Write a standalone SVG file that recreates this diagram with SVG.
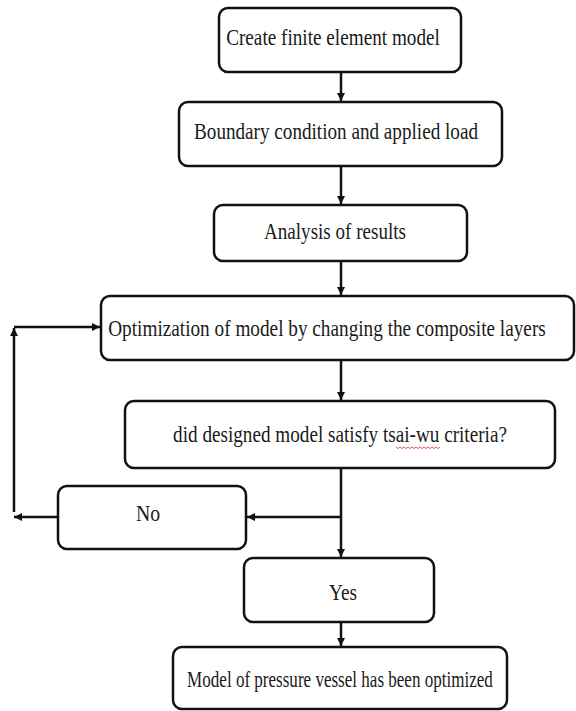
<svg xmlns="http://www.w3.org/2000/svg" width="576" height="711" viewBox="0 0 576 711">
<style>
.box{fill:#fff;stroke:#111;stroke-width:2.5}
.lbl{font-family:"Liberation Serif","Times New Roman",serif;font-size:23px;fill:#1a1a1a;text-anchor:middle}
.ln{stroke:#111;stroke-width:2.5;fill:none}
</style>
<defs>
<marker id="ah" viewBox="0 0 10 10" refX="10" refY="5" markerWidth="3.2" markerHeight="3.2" orient="auto" markerUnits="strokeWidth">
<path d="M0,0 L10,5 L0,10 z" fill="#111"/>
</marker>
</defs>
<rect width="576" height="711" fill="#fff"/>
<g id="connectors">
<line class="ln" x1="341" y1="72" x2="341" y2="101" marker-end="url(#ah)"/>
<line class="ln" x1="341" y1="166" x2="341" y2="204" marker-end="url(#ah)"/>
<line class="ln" x1="341" y1="261" x2="341" y2="295" marker-end="url(#ah)"/>
<line class="ln" x1="341" y1="360" x2="341" y2="400" marker-end="url(#ah)"/>
<line class="ln" x1="341" y1="468" x2="341" y2="557" marker-end="url(#ah)"/>
<line class="ln" x1="341" y1="517" x2="247" y2="517" marker-end="url(#ah)"/>
<line class="ln" x1="58" y1="517" x2="14" y2="517" marker-end="url(#ah)"/>
<line class="ln" x1="14" y1="512" x2="14" y2="328" marker-end="url(#ah)"/>
<line class="ln" x1="14" y1="327" x2="100" y2="327" marker-end="url(#ah)"/>
<line class="ln" x1="341" y1="622" x2="341" y2="646" marker-end="url(#ah)"/>
</g>
<g id="n1">
<rect class="box" x="219" y="8" width="242" height="64" rx="9"/>
<text class="lbl" transform="translate(333,45) scale(0.78,1)" textLength="274" lengthAdjust="spacingAndGlyphs">Create finite element model</text>
</g>
<g id="n2">
<rect class="box" x="179" y="102" width="323" height="64" rx="9"/>
<text class="lbl" transform="translate(336,139) scale(0.78,1)" textLength="364" lengthAdjust="spacingAndGlyphs">Boundary condition and applied load</text>
</g>
<g id="n3">
<rect class="box" x="214" y="205" width="253" height="56" rx="9"/>
<text class="lbl" transform="translate(335,239) scale(0.78,1)" textLength="182" lengthAdjust="spacingAndGlyphs">Analysis of results</text>
</g>
<g id="n4">
<rect class="box" x="101" y="296" width="473" height="64" rx="9"/>
<text class="lbl" transform="translate(327,336) scale(0.78,1)" textLength="561" lengthAdjust="spacingAndGlyphs">Optimization of model by changing the composite layers</text>
</g>
<g id="n5">
<rect class="box" x="125" y="401" width="430" height="67" rx="9"/>
<text class="lbl" transform="translate(340,442) scale(0.78,1)" textLength="428" lengthAdjust="spacingAndGlyphs">did designed model satisfy tsai-wu criteria?</text>
<path d="M396,447 l2,1.5 l2,-1.5 l2,1.5 l2,-1.5 l2,1.5 l2,-1.5 l2,1.5 l2,-1.5 l2,1.5 l2,-1.5 l2,1.5 l2,-1.5 l2,1.5 l2,-1.5 l2,1.5 l2,-1.5 l2,1.5 l2,-1.5 l2,1.5 l2,-1.5 l2,1.5 l2,-1.5" fill="none" stroke="#d33" stroke-width="0.8"/>
</g>
<g id="n6">
<rect class="box" x="58" y="486" width="188" height="63" rx="9"/>
<text class="lbl" transform="translate(148,521) scale(0.78,1)" textLength="31" lengthAdjust="spacingAndGlyphs">No</text>
</g>
<g id="n7">
<rect class="box" x="244" y="558" width="190" height="64" rx="9"/>
<text class="lbl" transform="translate(343,600) scale(0.78,1)" textLength="36" lengthAdjust="spacingAndGlyphs">Yes</text>
</g>
<g id="n8">
<rect class="box" x="173" y="647" width="334" height="62" rx="9"/>
<text class="lbl" transform="translate(340,687) scale(0.78,1)" textLength="392" lengthAdjust="spacingAndGlyphs">Model of pressure vessel has been optimized</text>
</g>
</svg>
